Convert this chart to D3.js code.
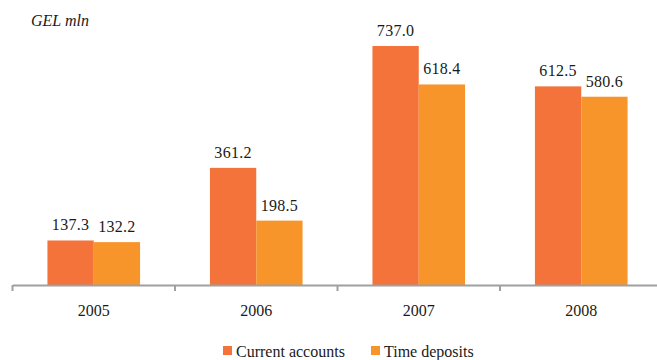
<!DOCTYPE html>
<html>
<head>
<meta charset="utf-8">
<script src="https://cdn.jsdelivr.net/npm/d3@7"></script>
<style>
  body { margin: 0; background: #fff; }
</style>
</head>
<body>
<div id="chart"></div>
<script>
// Data
const years = ["2005", "2006", "2007", "2008"];
const currentAccounts = [137.3, 361.2, 737.0, 612.5];
const timeDeposits = [132.2, 198.5, 618.4, 580.6];
const seriesNames = ["Current accounts", "Time deposits"];

const width = 657;
const height = 360;
const colors = ["#f3733b", "#f7952a"];
const serif = "'Liberation Serif', 'Times New Roman', Times, serif";

const svg = d3.select("#chart")
  .append("svg")
  .attr("width", width)
  .attr("height", height)
  .style("font-family", serif);

// scales
const x = d3.scaleBand()
  .domain(years)
  .range([12.5, 662.5])
  .paddingInner(0)
  .paddingOuter(0);

const inner = d3.scaleBand()
  .domain([0, 1])
  .range([x.bandwidth() * 0.215, x.bandwidth() * 0.785]);

const y = d3.scaleLinear()
  .domain([0, 800])
  .range([285, 285 - 800 * 0.3243]);

const rows = years.map((yr, i) => ({ year: yr, values: [currentAccounts[i], timeDeposits[i]] }));

// bars
const groups = svg.selectAll(".year")
  .data(rows)
  .enter()
  .append("g")
  .attr("transform", (d) => `translate(${x(d.year)},0)`);

groups.selectAll("rect")
  .data((d) => d.values)
  .enter()
  .append("rect")
  .attr("x", (d, i) => inner(i))
  .attr("y", (d) => y(d))
  .attr("width", inner.bandwidth())
  .attr("height", (d) => y(0) - y(d))
  .attr("fill", (d, i) => colors[i]);

groups.selectAll(".val")
  .data((d) => d.values)
  .enter()
  .append("text")
  .attr("class", "val")
  .attr("x", (d, i) => inner(i) + inner.bandwidth() / 2)
  .attr("y", (d) => y(d) - 10)
  .attr("text-anchor", "middle")
  .style("font-family", serif)
  .style("font-size", "16px")
  .style("letter-spacing", "0.3px")
  .attr("fill", "#1a1a1a")
  .text((d) => d.toFixed(1));

// x axis
const axis = svg.append("g")
  .attr("transform", `translate(0,${y(0)})`)
  .call(d3.axisBottom(x).tickSize(0).tickPadding(20));

axis.select(".domain").attr("stroke", "#a0a0a0").attr("stroke-width", 2);
axis.selectAll("text")
  .style("font-size", "16px")
  .style("font-family", serif)
  .attr("fill", "#1a1a1a");

// boundary ticks between categories
const bounds = years.map((d) => x(d));
svg.selectAll(".sep")
  .data(bounds)
  .enter()
  .append("line")
  .attr("x1", (d) => d)
  .attr("x2", (d) => d)
  .attr("y1", y(0))
  .attr("y2", y(0) + 6)
  .attr("stroke", "#a0a0a0")
  .attr("stroke-width", 2);

// unit label
svg.append("text")
  .attr("x", 31)
  .attr("y", 26)
  .style("font-family", serif)
  .style("font-size", "16px")
  .style("font-style", "italic")
  .attr("fill", "#1a1a1a")
  .text("GEL mln");

// legend
const legendX = [223, 371];
seriesNames.forEach((name, i) => {
  svg.append("rect")
    .attr("x", legendX[i])
    .attr("y", 346)
    .attr("width", 9)
    .attr("height", 9)
    .attr("fill", colors[i]);
  svg.append("text")
    .attr("x", legendX[i] + 13)
    .attr("y", 357)
    .style("font-family", serif)
    .style("font-size", "16px")
    .attr("fill", "#1a1a1a")
    .text(name);
});
</script>
</body>
</html>
